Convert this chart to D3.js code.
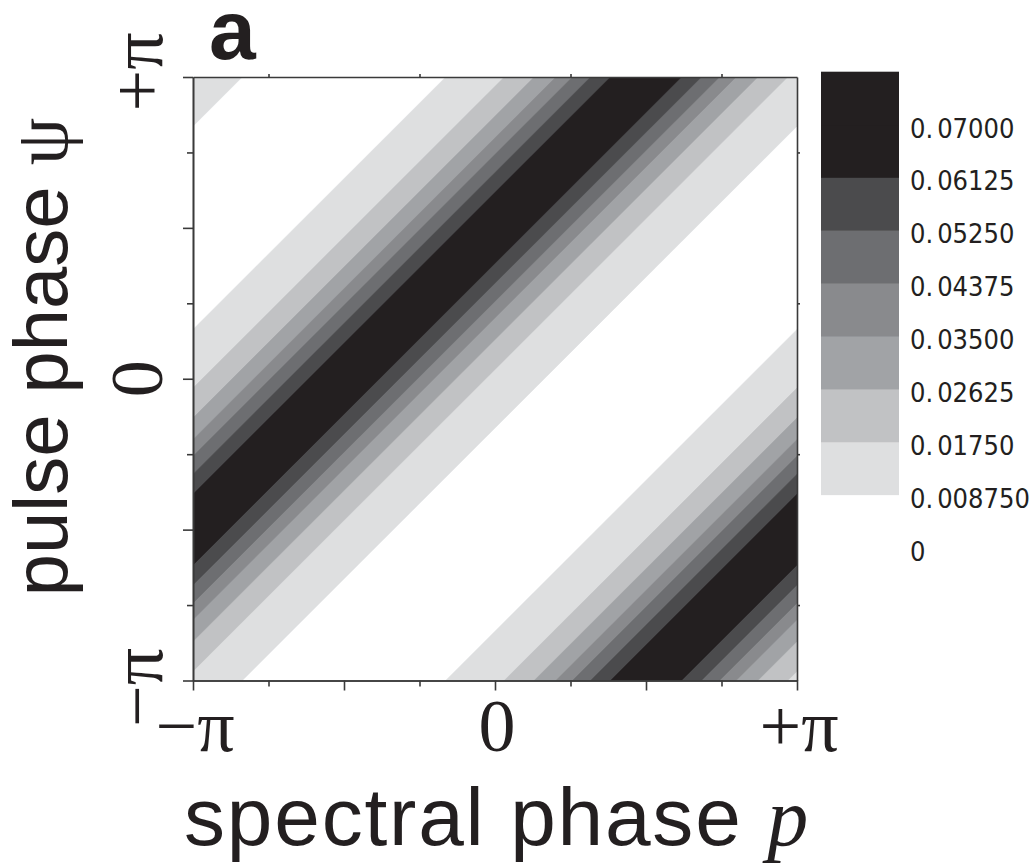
<!DOCTYPE html>
<html>
<head>
<meta charset="utf-8">
<script src="https://cdn.jsdelivr.net/npm/d3@7"></script>
<style>
  html, body { margin: 0; padding: 0; background: #ffffff; }
  svg { display: block; }
</style>
</head>
<body>
<svg id="chart" width="1035" height="868"></svg>
<script>
// ---------------- data ----------------
// contour levels of the plotted quantity
const levels = [0, 0.00875, 0.0175, 0.02625, 0.035, 0.04375, 0.0525, 0.06125, 0.07, 0.07875];
// fill colour of each interval [levels[i], levels[i+1])
const bandColors = ["#ffffff", "#dedfe0", "#c1c2c4", "#a1a3a6", "#898a8d", "#6d6e71", "#4b4b4d", "#231f20", "#231f20"];
// colour-bar tick labels (one per level, bottom to top)
const levelLabels = ["0", "0.008750", "0.01750", "0.02625", "0.03500", "0.04375", "0.05250", "0.06125", "0.07000"];
// the field depends on d = psi - p only; its ridge sits at d = peakOffset (units of pi)
const peakOffset = 0.5;
// half width (units of pi) of the region where the field exceeds levels[1..7]
const halfWidths = [0.663, 0.469, 0.370, 0.298, 0.243, 0.183, 0.117];
// axis ticks (units of pi)
const majorTicks = [-1, -0.5, 0, 0.5, 1];
const minorTicks = [-0.75, -0.25, 0.25, 0.75];
const xTickLabels = [{v: -1, t: "\u2212\u03c0"}, {v: 0, t: "0"}, {v: 1, t: "+\u03c0"}];
const yTickLabels = [{v: -1, t: "\u2212\u03c0", off: -7}, {v: 0, t: "0", off: 0}, {v: 1, t: "+\u03c0", off: 5}];

// ---------------- layout ----------------
const PI = Math.PI;
const svg = d3.select("#chart");
const plot = {left: 193, right: 797, top: 77, bottom: 680.5};
const x = d3.scaleLinear().domain([-PI, PI]).range([plot.left, plot.right]);
const y = d3.scaleLinear().domain([-PI, PI]).range([plot.bottom, plot.top]);

svg.append("defs").append("clipPath").attr("id", "plotClip")
  .append("rect")
  .attr("x", plot.left).attr("y", plot.top)
  .attr("width", plot.right - plot.left).attr("height", plot.bottom - plot.top);

const field = svg.append("g").attr("clip-path", "url(#plotClip)");
field.append("rect")
  .attr("x", plot.left).attr("y", plot.top)
  .attr("width", plot.right - plot.left).attr("height", plot.bottom - plot.top)
  .attr("fill", bandColors[0]);

// strips |psi - p - c| <= w, with periodic copies c = (peakOffset + 2m) * pi
const strips = [];
halfWidths.forEach((w, i) => {
  [-1, 0, 1].forEach(m => {
    strips.push({c: (peakOffset + 2 * m) * PI, w: w * PI, color: bandColors[i + 1]});
  });
});
const line = d3.line().x(d => x(d[0])).y(d => y(d[1]));
field.selectAll("path.band").data(strips).join("path")
  .attr("class", "band")
  .attr("d", s => line([
    [-PI, -PI + s.c - s.w], [PI, PI + s.c - s.w],
    [PI, PI + s.c + s.w], [-PI, -PI + s.c + s.w]
  ]) + "Z")
  .attr("fill", s => s.color)
  .attr("stroke", s => s.color)
  .attr("stroke-width", 0.6);

// ---------------- axes ----------------
const axisColor = "#3a3a3a";
function styleAxis(g) {
  g.selectAll("path.domain").attr("stroke", axisColor).attr("stroke-width", 1.6);
  g.selectAll(".tick line").attr("stroke", axisColor).attr("stroke-width", 1.6);
  g.selectAll(".tick text").remove();
}
const toRad = v => v * PI;
// bottom
svg.append("g").attr("transform", `translate(0,${plot.bottom})`)
  .call(d3.axisBottom(x).tickValues(majorTicks.map(toRad)).tickSize(10).tickSizeOuter(0)).call(styleAxis);
svg.append("g").attr("transform", `translate(0,${plot.bottom})`)
  .call(d3.axisBottom(x).tickValues(minorTicks.map(toRad)).tickSize(6).tickSizeOuter(0)).call(styleAxis);
// left
svg.append("g").attr("transform", `translate(${plot.left},0)`)
  .call(d3.axisLeft(y).tickValues(majorTicks.map(toRad)).tickSize(10).tickSizeOuter(0)).call(styleAxis);
svg.append("g").attr("transform", `translate(${plot.left},0)`)
  .call(d3.axisLeft(y).tickValues(minorTicks.map(toRad)).tickSize(6).tickSizeOuter(0)).call(styleAxis);
// top and right (frame with small ticks)
svg.append("g").attr("transform", `translate(0,${plot.top})`)
  .call(d3.axisTop(x).tickValues(minorTicks.map(toRad)).tickSize(3).tickSizeOuter(0)).call(styleAxis);
svg.append("g").attr("transform", `translate(${plot.right},0)`)
  .call(d3.axisRight(y).tickValues(minorTicks.map(toRad)).tickSize(3).tickSizeOuter(0)).call(styleAxis);

// tick labels
const serif = "'Liberation Serif', 'Times New Roman', serif";
svg.append("g").selectAll("text").data(xTickLabels).join("text")
  .attr("x", d => x(toRad(d.v)) + 2)
  .attr("y", 751)
  .attr("text-anchor", "middle")
  .attr("font-family", serif)
  .attr("font-size", 74)
  .attr("fill", "#231f20")
  .text(d => d.t);
svg.append("g").selectAll("text").data(yTickLabels).join("text")
  .attr("transform", d => `translate(162,${y(toRad(d.v)) - d.off}) rotate(-90)`)
  .attr("text-anchor", "middle")
  .attr("font-family", serif)
  .attr("font-size", 74)
  .attr("fill", "#231f20")
  .text(d => d.t);

// axis titles
const sans = "'Liberation Sans', Arial, Helvetica, sans-serif";
const xt = svg.append("text")
  .attr("x", 497).attr("y", 845)
  .attr("text-anchor", "middle")
  .attr("font-family", sans)
  .attr("font-size", 82)
  .attr("letter-spacing", 1.8)
  .attr("fill", "#231f20");
xt.append("tspan").text("spectral phase ");
xt.append("tspan").attr("font-family", serif).attr("font-style", "italic").text("p");

const yt = svg.append("text")
  .attr("transform", "translate(67,357) rotate(-90)")
  .attr("text-anchor", "middle")
  .attr("font-family", sans)
  .attr("font-size", 76)
  .attr("fill", "#231f20");
yt.append("tspan").text("pulse phase ");
yt.append("tspan").attr("font-family", serif).text("\u03c8");

// panel letter
svg.append("text")
  .attr("x", 209).attr("y", 59)
  .attr("font-family", sans)
  .attr("font-weight", "bold")
  .attr("font-size", 84)
  .attr("fill", "#231f20")
  .text("a");

// ---------------- colour bar ----------------
const cb = {left: 821, right: 899};
const yc = d3.scaleLinear().domain([levels[0], levels[levels.length - 1]]).range([547.5, 71.7]);
const cbData = d3.range(1, levels.length - 1).map(i => ({lo: levels[i], hi: levels[i + 1], color: bandColors[i]}));
svg.append("g").selectAll("rect").data(cbData).join("rect")
  .attr("x", cb.left)
  .attr("y", d => yc(d.hi))
  .attr("width", cb.right - cb.left)
  .attr("height", d => yc(d.lo) - yc(d.hi) + 0.5)
  .attr("fill", d => d.color);

const cbText = svg.append("g").selectAll("text").data(levelLabels).join("text")
  .attr("x", 910)
  .attr("y", (d, i) => yc(levels[i]) + 13)
  .attr("font-family", "'Liberation Sans Narrow', 'DejaVu Sans Condensed', sans-serif")
  .attr("font-size", 27)
  .attr("fill", "#231f20");
cbText.each(function(d) {
  const t = d3.select(this);
  const k = d.indexOf(".");
  if (k < 0) { t.text(d); return; }
  t.append("tspan").text(d.slice(0, k + 1));
  t.append("tspan").attr("dx", 4).text(d.slice(k + 1));
});
</script>
</body>
</html>
